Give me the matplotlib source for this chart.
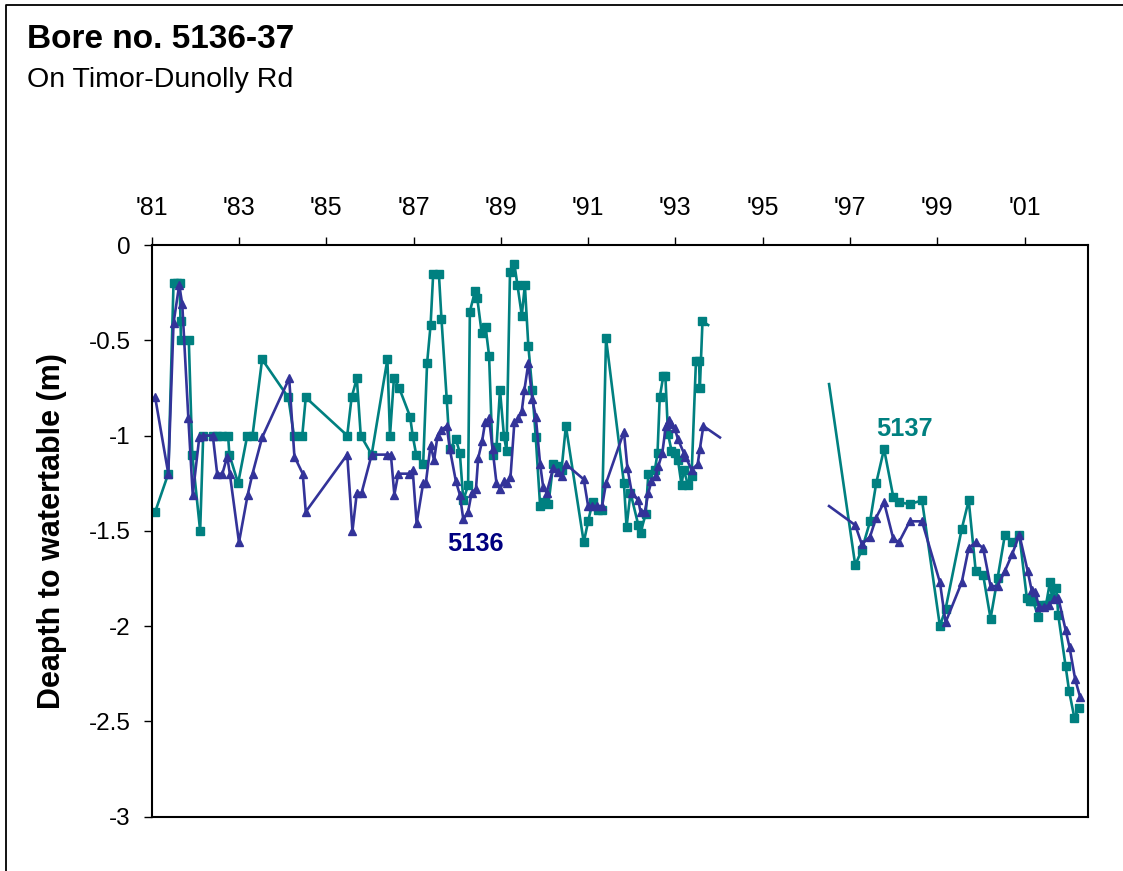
import matplotlib
matplotlib.use("Agg")
import matplotlib.pyplot as plt
from matplotlib.lines import Line2D

plt.rcParams['font.family'] = ['Liberation Sans', 'DejaVu Sans']
plt.rcParams['axes.unicode_minus'] = False

# ---------------- data ----------------
# Bore 5137 (teal, squares) - first period (last point is a dangling line end)
yr_5137_a = [1981.08, 1981.38, 1981.50, 1981.58, 1981.64, 1981.66, 1981.67, 1981.85, 1981.93,
             1982.11, 1982.18, 1982.40, 1982.49, 1982.60, 1982.75, 1982.78, 1982.98, 1983.19,
             1983.31, 1983.53, 1984.13, 1984.26, 1984.45, 1984.53, 1985.48, 1985.58, 1985.70,
             1985.79, 1986.04, 1986.40, 1986.46, 1986.55, 1986.67, 1986.92, 1986.98, 1987.06,
             1987.22, 1987.31, 1987.39, 1987.45, 1987.58, 1987.64, 1987.76, 1987.83, 1987.97,
             1988.06, 1988.14, 1988.25, 1988.29, 1988.41, 1988.46, 1988.56, 1988.65, 1988.73,
             1988.81, 1988.90, 1988.98, 1989.07, 1989.13, 1989.21, 1989.31, 1989.38, 1989.48,
             1989.55, 1989.63, 1989.72, 1989.80, 1989.90, 1989.99, 1990.09, 1990.20, 1990.29,
             1990.39, 1990.49, 1990.90, 1991.00, 1991.10, 1991.23, 1991.32, 1991.41, 1991.82,
             1991.88, 1991.97, 1992.15, 1992.20, 1992.32, 1992.38, 1992.53, 1992.59, 1992.64,
             1992.72, 1992.77, 1992.83, 1992.91, 1992.98, 1993.06, 1993.14, 1993.19, 1993.29,
             1993.37, 1993.47, 1993.54, 1993.56, 1993.62, 1993.75]
dep_5137_a = [-1.40, -1.20, -0.20, -0.20, -0.20, -0.40, -0.50, -0.50, -1.10,
              -1.50, -1.00, -1.00, -1.00, -1.00, -1.00, -1.10, -1.25, -1.00,
              -1.00, -0.60, -0.80, -1.00, -1.00, -0.80, -1.00, -0.80, -0.70,
              -1.00, -1.10, -0.60, -1.00, -0.70, -0.75, -0.90, -1.00, -1.10,
              -1.15, -0.62, -0.42, -0.15, -0.15, -0.39, -0.81, -1.07, -1.02,
              -1.09, -1.34, -1.26, -0.35, -0.24, -0.28, -0.46, -0.43, -0.58,
              -1.10, -1.06, -0.76, -1.00, -1.08, -0.14, -0.10, -0.21, -0.37,
              -0.21, -0.53, -0.76, -1.01, -1.37, -1.35, -1.36, -1.15, -1.16,
              -1.18, -0.95, -1.56, -1.45, -1.35, -1.39, -1.39, -0.49, -1.25,
              -1.48, -1.30, -1.47, -1.51, -1.41, -1.20, -1.18, -1.09, -0.80,
              -0.69, -0.69, -0.99, -1.08, -1.09, -1.13, -1.26, -1.18, -1.26,
              -1.21, -0.61, -0.61, -0.75, -0.40, -0.42]

# Bore 5137 - second period (first point is a dangling line start)
yr_5137_b = [1996.52, 1997.12, 1997.27, 1997.46, 1997.60, 1997.78, 1997.99, 1998.12, 1998.37,
             1998.65, 1999.06, 1999.19, 1999.56, 1999.72, 1999.88, 2000.05, 2000.22, 2000.38,
             2000.55, 2000.72, 2000.88, 2001.05, 2001.13, 2001.20, 2001.31, 2001.40, 2001.49,
             2001.58, 2001.63, 2001.73, 2001.77, 2001.94, 2002.02, 2002.14, 2002.25]
dep_5137_b = [-0.73, -1.68, -1.60, -1.45, -1.25, -1.07, -1.32, -1.35, -1.36,
              -1.34, -2.00, -1.91, -1.49, -1.34, -1.71, -1.73, -1.96, -1.75,
              -1.52, -1.56, -1.52, -1.85, -1.87, -1.87, -1.95, -1.89, -1.89,
              -1.77, -1.85, -1.80, -1.94, -2.21, -2.34, -2.48, -2.43]

# Bore 5136 (blue, triangles) - first period (last point is a dangling line end)
yr_5136_a = [1981.08, 1981.38, 1981.50, 1981.63, 1981.70, 1981.84, 1981.94, 1982.09, 1982.18,
             1982.40, 1982.50, 1982.62, 1982.73, 1982.79, 1983.00, 1983.20, 1983.31, 1983.53,
             1984.15, 1984.27, 1984.46, 1984.53, 1985.48, 1985.60, 1985.70, 1985.81, 1986.04,
             1986.40, 1986.48, 1986.56, 1986.65, 1986.90, 1986.98, 1987.07, 1987.22, 1987.28,
             1987.39, 1987.47, 1987.55, 1987.64, 1987.76, 1987.83, 1987.97, 1988.06, 1988.14,
             1988.25, 1988.33, 1988.43, 1988.48, 1988.57, 1988.64, 1988.73, 1988.81, 1988.90,
             1988.98, 1989.07, 1989.15, 1989.22, 1989.31, 1989.40, 1989.48, 1989.54, 1989.63,
             1989.72, 1989.80, 1989.90, 1989.97, 1990.05, 1990.20, 1990.32, 1990.39, 1990.49,
             1990.90, 1991.00, 1991.08, 1991.20, 1991.32, 1991.41, 1991.82, 1991.90, 1992.00,
             1992.15, 1992.20, 1992.30, 1992.38, 1992.45, 1992.55, 1992.61, 1992.70, 1992.78,
             1992.85, 1992.91, 1992.98, 1993.06, 1993.19, 1993.23, 1993.37, 1993.51, 1993.56,
             1993.64, 1994.02]
dep_5136_a = [-0.80, -1.20, -0.41, -0.21, -0.31, -0.91, -1.31, -1.01, -1.00,
              -1.00, -1.20, -1.20, -1.11, -1.20, -1.56, -1.31, -1.20, -1.01,
              -0.70, -1.11, -1.20, -1.40, -1.10, -1.50, -1.30, -1.30, -1.10,
              -1.10, -1.10, -1.31, -1.20, -1.20, -1.18, -1.46, -1.25, -1.25,
              -1.05, -1.13, -1.00, -0.97, -0.95, -1.07, -1.24, -1.31, -1.44,
              -1.40, -1.30, -1.28, -1.12, -1.03, -0.93, -0.91, -1.07, -1.25,
              -1.28, -1.24, -1.25, -1.22, -0.93, -0.91, -0.87, -0.76, -0.62,
              -0.81, -0.90, -1.15, -1.27, -1.30, -1.17, -1.19, -1.21, -1.15,
              -1.23, -1.37, -1.37, -1.37, -1.37, -1.25, -0.98, -1.17, -1.30,
              -1.34, -1.40, -1.40, -1.30, -1.24, -1.21, -1.16, -1.09, -0.95,
              -0.92, -0.94, -0.96, -1.02, -1.09, -1.11, -1.18, -1.15, -1.07,
              -0.95, -1.01]

# Bore 5136 - second period (first point is a dangling line start)
yr_5136_b = [1996.52, 1997.12, 1997.27, 1997.46, 1997.60, 1997.78, 1997.99, 1998.12, 1998.37,
             1998.65, 1999.06, 1999.19, 1999.56, 1999.72, 1999.88, 2000.05, 2000.22, 2000.38,
             2000.55, 2000.72, 2000.88, 2001.07, 2001.16, 2001.23, 2001.34, 2001.45, 2001.56,
             2001.68, 2001.77, 2001.94, 2002.03, 2002.16, 2002.27]
dep_5136_b = [-1.37, -1.47, -1.57, -1.53, -1.43, -1.35, -1.54, -1.56, -1.45,
              -1.45, -1.77, -1.98, -1.77, -1.59, -1.56, -1.59, -1.79, -1.79,
              -1.71, -1.62, -1.52, -1.71, -1.81, -1.82, -1.90, -1.90, -1.89,
              -1.86, -1.85, -2.02, -2.11, -2.28, -2.37]

x_ticks = [1981, 1983, 1985, 1987, 1989, 1991, 1993, 1995, 1997, 1999, 2001]
x_tick_labels = ["'81", "'83", "'85", "'87", "'89", "'91", "'93", "'95", "'97", "'99", "'01"]
y_ticks = [0, -0.5, -1, -1.5, -2, -2.5, -3]
y_tick_labels = ["0", "-0.5", "-1", "-1.5", "-2", "-2.5", "-3"]

title = "Bore no. 5136-37"
subtitle = "On Timor-Dunolly Rd"
ylabel = "Deapth to watertable (m)"

# ---------------- styling ----------------
TEAL = '#008080'
BLUE = '#333399'
NAVY = '#000080'

W, H = 1123, 871
fig = plt.figure(figsize=(W / 100, H / 100), dpi=100)
fig.patch.set_facecolor('white')

ax_l, ax_r, ax_t, ax_b = 151.7, 1088.3, 245.0, 816.7
ax = fig.add_axes([ax_l / W, 1 - ax_b / H, (ax_r - ax_l) / W, (ax_b - ax_t) / H])

line_kw = dict(linewidth=1.9, markersize=5.4)
ax.plot(yr_5137_a, dep_5137_a, color=TEAL, marker='s', markevery=slice(0, len(yr_5137_a) - 1), **line_kw)
ax.plot(yr_5137_b, dep_5137_b, color=TEAL, marker='s', markevery=slice(1, None), **line_kw)
ax.plot(yr_5136_a, dep_5136_a, color=BLUE, marker='^', markevery=slice(0, len(yr_5136_a) - 1), **line_kw)
ax.plot(yr_5136_b, dep_5136_b, color=BLUE, marker='^', markevery=slice(1, None), **line_kw)

ax.set_xlim(1981, 2002.46)
ax.set_ylim(-3, 0)

ax.xaxis.tick_top()
ax.set_xticks(x_ticks)
ax.set_xticklabels(x_tick_labels)
ax.set_yticks(y_ticks)
ax.set_yticklabels(y_tick_labels)
ax.tick_params(axis='x', direction='out', length=6, width=1.0, pad=12, labelsize=18, colors='black')
ax.tick_params(axis='y', direction='out', length=6, width=1.0, pad=9, labelsize=17.5, colors='black')

for sp in ax.spines.values():
    sp.set_linewidth(1.5)
    sp.set_color('black')

ax.set_ylabel(ylabel, fontsize=22, fontweight='bold')
ax.yaxis.set_label_coords((52 - ax_l) / (ax_r - ax_l), 0.5)
ax.yaxis.label.set_va('center')

# series labels
ax.text(1988.41, -1.57, '5136', color=NAVY, fontsize=18.3, fontweight='bold', ha='center', va='center')
ax.text(1998.24, -0.965, '5137', color=TEAL, fontsize=18.3, fontweight='bold', ha='center', va='center')

# titles
fig.text(27 / W, 1 - 48.5 / H, title, fontsize=24, fontweight='bold', ha='left', va='baseline')
fig.text(27 / W, 1 - 87 / H, subtitle, fontsize=20.5, ha='left', va='baseline')

# outer chart frame (left and top edges visible)
fig.add_artist(Line2D([5.5 / W, 5.5 / W, 1.0], [0.0, 1 - 5.5 / H, 1 - 5.5 / H],
                      transform=fig.transFigure, color='black', linewidth=1.3))

fig.savefig('out.png', dpi=100, facecolor='white')
